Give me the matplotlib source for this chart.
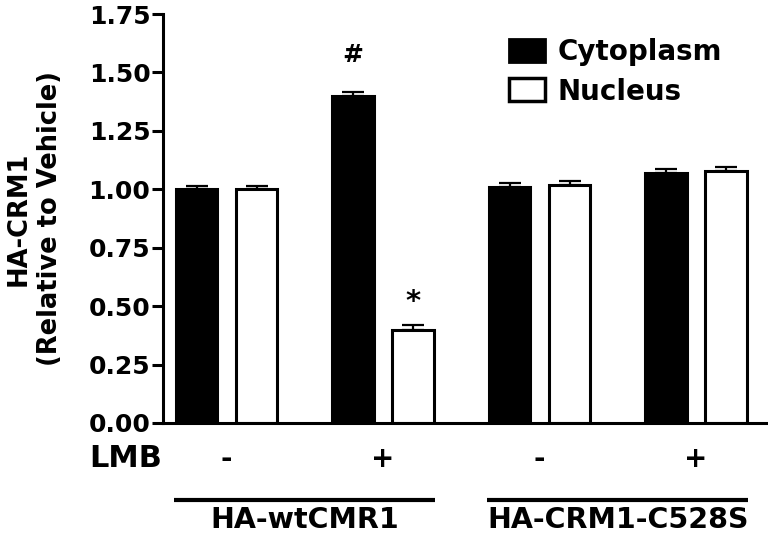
import matplotlib
matplotlib.use("Agg")
import matplotlib.pyplot as plt
import numpy as np
from matplotlib.patches import Rectangle
from matplotlib.transforms import blended_transform_factory

# ----- data -----
groups = ["HA-wtCMR1", "HA-CRM1-C528S"]
lmb = ["-", "+", "-", "+"]
cytoplasm = [1.00, 1.40, 1.01, 1.07]
cytoplasm_err = [0.015, 0.017, 0.017, 0.015]
nucleus = [1.00, 0.40, 1.02, 1.08]
nucleus_err = [0.015, 0.018, 0.014, 0.015]
marks_cyto = ["", "#", "", ""]
marks_nuc = ["", "*", "", ""]

plt.rcParams["font.family"] = "DejaVu Sans"
plt.rcParams["font.weight"] = "bold"

fig = plt.figure(figsize=(7.68, 5.33), dpi=100)
ax = fig.add_axes([0.2122, 0.2064, 0.785, 0.7673])

x = np.arange(len(cytoplasm))
w = 0.265
off = 0.192
lw = 2.2

ax.bar(x - off, cytoplasm, w, color="black", edgecolor="black", linewidth=lw,
       yerr=[np.zeros(4), cytoplasm_err],
       error_kw=dict(ecolor="black", elinewidth=1.6, capsize=8, capthick=1.6),
       label="Cytoplasm")
ax.bar(x + off, nucleus, w, color="white", edgecolor="black", linewidth=lw,
       yerr=[np.zeros(4), nucleus_err],
       error_kw=dict(ecolor="black", elinewidth=1.6, capsize=8, capthick=1.6),
       label="Nucleus")

# significance marks
for i, m in enumerate(marks_cyto):
    if m:
        ax.annotate(m, (x[i] - off, cytoplasm[i] + cytoplasm_err[i]),
                    xytext=(0, 18), textcoords="offset points",
                    ha="center", va="bottom", fontsize=18)
for i, m in enumerate(marks_nuc):
    if m:
        ax.annotate(m, (x[i] + off, nucleus[i] + nucleus_err[i]),
                    xytext=(0, 7), textcoords="offset points",
                    ha="center", va="bottom", fontsize=21)

ax.set_xlim(-0.407, 3.446)
ax.set_ylim(0, 1.75)
ax.set_yticks(np.arange(0, 1.76, 0.25))
ax.set_yticklabels([f"{v:.2f}" for v in np.arange(0, 1.76, 0.25)], fontsize=18)
ax.set_xticks([])
for s in ["top", "right"]:
    ax.spines[s].set_visible(False)
for s in ["left", "bottom"]:
    ax.spines[s].set_linewidth(2.2)
ax.tick_params(axis="y", width=2.2, length=8, pad=1)

fig.text(0.045, 0.59, "HA-CRM1\n(Relative to Vehicle)", rotation=90,
         ha="center", va="center", fontsize=18.5, linespacing=1.25)

# LMB row and group bars below the axis
trans = blended_transform_factory(ax.transData, ax.transAxes)
ax.text(-0.41, -0.088, "LMB", transform=trans, ha="right", va="center",
        fontsize=22, clip_on=False)
for i, s in enumerate(lmb):
    ax.text(x[i], -0.088, s, transform=trans, ha="center", va="center",
            fontsize=20, clip_on=False)
for g, name in enumerate(groups):
    left = x[2 * g] - off - w / 2 - 0.01
    right = x[2 * g + 1] + off + w / 2 + 0.01
    ax.plot([left, right], [-0.188, -0.188], transform=trans, color="black",
            lw=3, clip_on=False, solid_capstyle="butt")
    ax.text((left + right) / 2, -0.237, name, transform=trans, ha="center",
            va="center", fontsize=20.5, clip_on=False)

handles = [Rectangle((0, 0), 1, 1, facecolor="black", edgecolor="black", lw=2),
           Rectangle((0, 0), 1, 1, facecolor="white", edgecolor="black", lw=2.5)]
fig.legend(handles, ["Cytoplasm", "Nucleus"], loc="upper left",
           bbox_to_anchor=(0.6628, 0.929), frameon=False, fontsize=20,
           handlelength=1.3, handleheight=0.9, handletextpad=0.45,
           labelspacing=0.42, borderpad=0, borderaxespad=0)

fig.savefig("out.png", dpi=100)
